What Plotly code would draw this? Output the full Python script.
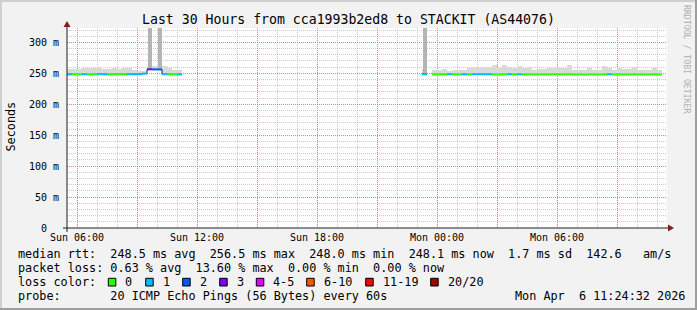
import plotly.graph_objects as go

# ---------------- data ----------------
STEP_H = 0.25                      # sampling step (hours)
X_START, X_END = 5.5, 35.5         # Sun 05:30 .. Mon 11:30 (hours since Sun 00:00)

seg1_start = 5.5
seg1_median = [248.3, 248.4, 248.2, 248.5, 248.3, 248.4, 248.6, 248.4, 248.2, 248.3, 248.4, 248.3,
               248.5, 248.4, 248.6, 249.6, 256.5, 256.4, 256.3, 248.6, 248.2, 248.1, 248.3]
seg1_loss = [1, 0, 0, 1, 0, 0, 1, 1, 0, 0, 0, 0,
             1, 1, 1, 1, 3, 2, 2, 1, 0, 0, 1]
seg1_smoke_top = [257, 257, 257, 259, 258, 258, 261, 257, 257, 259, 257, 258,
                  259, 256, 254, 254, 261, 262, 261, 262, 258, 256, 256]
seg1_spike_top = [None, None, None, None, None, None, None, None, None, None, None, None,
                  None, None, None, None, 700, None, 650, None, None, None, None]

seg2_start = 23.25
seg2_median = [248.6, None, 248.3, 248.2, 248.4, 248.5, 248.3, 248.2, 248.4, 248.3, 248.5, 248.6,
               248.4, 248.5, 248.3, 248.2, 248.4, 248.5, 248.3, 248.4, 248.2, 248.3, 248.1, 248.2,
               248.3, 248.2, 248.4, 248.3, 248.2, 248.4, 248.1, 248.2, 248.0, 248.3, 248.2, 248.1,
               248.3, 248.4, 248.2, 248.3, 248.2, 248.1, 248.3, 248.2, 248.1, 248.2, 248.3, 248.1]
seg2_loss = [1, None, 0, 0, 0, 1, 0, 0, 1, 0, 1, 1,
             1, 1, 0, 0, 0, 1, 0, 1, 0, 0, 0, 0,
             0, 0, 0, 0, 0, 0, 0, 0, 0, 0, 0, 0,
             0, 1, 0, 0, 0, 0, 0, 0, 0, 0, 0, 0]
seg2_smoke_top = [257, None, 256, 256, 257, 254, 256, 256, 255, 258, 261, 260,
                  261, 260, 264, 258, 264, 261, 258, 262, 259, 261, 256, 257,
                  257, 259, 259, 258, 259, 263, 256, 256, 256, 259, 255, 255,
                  262, 259, 256, 259, 257, 257, 260, 256, 255, 256, 259, 256]
seg2_spike_top = [800] + [None] * 47

x_tick_vals = [6, 9, 12, 15, 18, 21, 24, 27, 30, 33]
x_tick_text = ["Sun 06:00", "", "Sun 12:00", "", "Sun 18:00", "", "Mon 00:00", "", "Mon 06:00", ""]
y_tick_vals = [0, 50, 100, 150, 200, 250, 300]
y_tick_text = ["0\u00a0\u00a0", "50 m", "100 m", "150 m", "200 m", "250 m", "300 m"]
Y_MAX = 323.3

loss_labels = ["0", "1", "2", "3", "4-5", "6-10", "11-19", "20/20"]
loss_colors = ["#26ff00", "#00b8ff", "#0059ff", "#7e00ff", "#e600ff", "#ff5500", "#ff0000", "#a10000"]

title = "Last 30 Hours from cca1993b2ed8 to STACKIT (AS44076)"
line_rtt = "median rtt:  248.5 ms avg  256.5 ms max  248.0 ms min  248.1 ms now  1.7 ms sd  142.6   am/s"
line_loss = "packet loss: 0.63 % avg  13.60 % max  0.00 % min  0.00 % now"
line_probe = "probe:       20 ICMP Echo Pings (56 Bytes) every 60s"
stamp = "Mon Apr  6 11:24:32 2026"

# ---------------- helpers ----------------
W, H = 697, 310
L, R, T, B = 67, 667, 28, 228
MONO = "DejaVu Sans Mono"


def xp(px):
    return (px - L) / (R - L)


def yp(py):
    return (B - py) / (B - T)


def loss_idx(n):
    if n <= 3:
        return n
    if n <= 5:
        return 4
    if n <= 10:
        return 5
    if n <= 19:
        return 6
    return 7


fig = go.Figure()

segments = [(seg1_start, seg1_median, seg1_loss, seg1_smoke_top, seg1_spike_top),
            (seg2_start, seg2_median, seg2_loss, seg2_smoke_top, seg2_spike_top)]

# smoke
sx, sb, sh, kx, kb, kh = [], [], [], [], [], []
for start, med, loss, top, spike in segments:
    for i, m in enumerate(med):
        if m is None:
            continue
        c = start + i * STEP_H + STEP_H / 2
        sx.append(c); sb.append(m); sh.append(top[i] - m)
        if spike[i] is not None:
            kx.append(c); kb.append(m); kh.append(spike[i] - m)

fig.add_trace(go.Bar(x=sx, y=sh, base=sb, width=STEP_H, marker=dict(color="#d9d9d9", line=dict(width=0)),
                     hoverinfo="skip", showlegend=False))
fig.add_trace(go.Bar(x=kx, y=kh, base=kb, width=STEP_H * 0.8, marker=dict(color="#b4b4b4", line=dict(width=0)),
                     hoverinfo="skip", showlegend=False))

# step connector
cx, cy = [], []
for start, med, loss, top, spike in segments:
    for i, m in enumerate(med):
        if m is None:
            cx.append(None); cy.append(None)
            continue
        t = start + i * STEP_H
        cx += [t, t + STEP_H]; cy += [m, m]
    cx.append(None); cy.append(None)
fig.add_trace(go.Scatter(x=cx, y=cy, mode="lines", line=dict(color="#1f1f1f", width=1),
                         hoverinfo="skip", showlegend=False, connectgaps=False))

# colored median segments
per = {k: ([], []) for k in range(8)}
for start, med, loss, top, spike in segments:
    for i, m in enumerate(med):
        if m is None:
            continue
        t = start + i * STEP_H
        k = loss_idx(loss[i])
        per[k][0].extend([t, t + STEP_H, None])
        per[k][1].extend([m, m, None])
for k, (xs, ys) in per.items():
    if xs:
        fig.add_trace(go.Scatter(x=xs, y=ys, mode="lines", line=dict(color=loss_colors[k], width=2),
                                 hoverinfo="skip", showlegend=False))

# ---------------- layout ----------------
minor_grid = "rgba(143,143,143,0.45)"
major_grid = "rgba(222,79,79,0.55)"

fig.update_layout(
    width=W, height=H,
    margin=dict(l=L, r=W - R, t=T, b=H - B),
    paper_bgcolor="#f2f2f2", plot_bgcolor="#ffffff",
    barmode="overlay", bargap=0,
    showlegend=False,
    xaxis=dict(range=[X_START, X_END], tickvals=x_tick_vals, ticktext=x_tick_text,
               showgrid=True, gridcolor=major_grid, griddash="1px,1px", gridwidth=1,
               minor=dict(dtick=1, tick0=0, showgrid=True, gridcolor=minor_grid, griddash="1px,1px"),
               zeroline=False, showline=False, ticks="", ticklabelstandoff=2,
               tickfont=dict(family=MONO, size=10, color="#000"), fixedrange=True),
    yaxis=dict(range=[0, Y_MAX], tickvals=y_tick_vals, ticktext=y_tick_text,
               showgrid=True, gridcolor=major_grid, griddash="1px,1px", gridwidth=1,
               minor=dict(dtick=10, tick0=0, showgrid=True, gridcolor=minor_grid, griddash="1px,1px"),
               zeroline=False, showline=False, ticks="", ticklabelstandoff=7,
               tickfont=dict(family=MONO, size=10, color="#000"), fixedrange=True),
)

shapes = []
ann = []

# frame (3D shade)
shapes.append(dict(type="rect", xref="paper", yref="paper", x0=xp(0), x1=xp(W), y0=yp(0), y1=yp(2),
                   fillcolor="#cfcfcf", line=dict(width=0), layer="above"))
shapes.append(dict(type="rect", xref="paper", yref="paper", x0=xp(0), x1=xp(2), y0=yp(0), y1=yp(H),
                   fillcolor="#cfcfcf", line=dict(width=0), layer="above"))
shapes.append(dict(type="rect", xref="paper", yref="paper", x0=xp(0), x1=xp(W), y0=yp(H - 2), y1=yp(H),
                   fillcolor="#9e9e9e", line=dict(width=0), layer="above"))
shapes.append(dict(type="rect", xref="paper", yref="paper", x0=xp(W - 2), x1=xp(W), y0=yp(0), y1=yp(H),
                   fillcolor="#9e9e9e", line=dict(width=0), layer="above"))

# axes with arrows
shapes.append(dict(type="line", xref="paper", yref="paper", x0=xp(63), x1=xp(669), y0=yp(228), y1=yp(228),
                   line=dict(color="#1f1f1f", width=1), layer="above"))
shapes.append(dict(type="line", xref="paper", yref="paper", x0=xp(67), x1=xp(67), y0=yp(232), y1=yp(26),
                   line=dict(color="#1f1f1f", width=1), layer="above"))
shapes.append(dict(type="path", xref="paper", yref="paper", layer="above",
                   path=f"M {xp(668)} {yp(224.5)} L {xp(668)} {yp(231.5)} L {xp(674)} {yp(228)} Z",
                   fillcolor="#801f1f", line=dict(width=0)))
shapes.append(dict(type="path", xref="paper", yref="paper", layer="above",
                   path=f"M {xp(63.5)} {yp(27)} L {xp(70.5)} {yp(27)} L {xp(67)} {yp(21)} Z",
                   fillcolor="#801f1f", line=dict(width=0)))


def text(px, py, s, size=11.8, anchor="left", color="#000", angle=0):
    ann.append(dict(xref="paper", yref="paper", x=xp(px), y=yp(py), text=s.replace(" ", "\u00a0"),
                    showarrow=False, xanchor=anchor, yanchor="middle", textangle=angle,
                    font=dict(family=MONO, size=size, color=color)))


text(348.5, 19, title, size=13.2, anchor="center")
text(10.5, 127, "Seconds", size=11.8, anchor="center", angle=-90)
text(687, 59, "RRDTOOL / TOBI OETIKER", size=8.2, anchor="center", color="#b0b0b0", angle=90)

text(16, 254, line_rtt)
text(16, 268, line_loss)
text(16, 282, "loss color:")
box_x = [108.3, 145.7, 182.7, 219.7, 256.3, 306.7, 365.7, 430.7]
for bx, lab, col in zip(box_x, loss_labels, loss_colors):
    shapes.append(dict(type="rect", xref="paper", yref="paper", x0=xp(bx), x1=xp(bx + 7.5),
                       y0=yp(286), y1=yp(278.3), fillcolor=col, line=dict(color="#000", width=1), layer="above"))
    text(bx + 15, 282, lab)
text(16, 296, line_probe)
text(513, 296, stamp)

fig.update_layout(shapes=shapes, annotations=ann)
fig.write_html("out.html")
